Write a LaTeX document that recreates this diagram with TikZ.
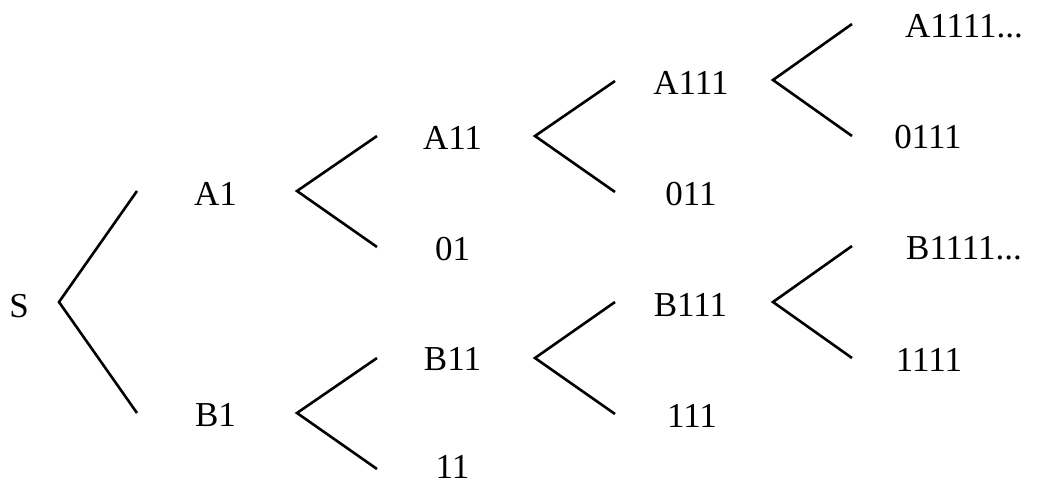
\documentclass[tikz,border=0pt]{standalone}
\usepackage{fontspec}
\setmainfont{Liberation Serif}
\begin{document}
\begin{tikzpicture}[x=1pt,y=-1pt,
  lbl/.style={anchor=base,inner sep=0pt,font=\fontsize{35}{41}\selectfont},
  branch/.style={line width=2.6pt,line join=miter}]
\useasboundingbox (0,0) rectangle (1037,483);
% labels
\node[lbl] (S) at (19,317) {S};
\node[lbl] (A1) at (215.5,205) {A1};
\node[lbl] (B1) at (215.5,426) {B1};
\node[lbl] (A11) at (452.5,149) {A11};
\node[lbl] (n01) at (452.5,260) {01};
\node[lbl] (B11) at (452.5,370) {B11};
\node[lbl] (n11) at (452.5,478) {11};
\node[lbl] (A111) at (691,94) {A111};
\node[lbl] (n011) at (691,205) {011};
\node[lbl] (B111) at (690.5,316) {B111};
\node[lbl] (n111) at (692,427) {111};
\node[lbl] (A1111) at (964,37) {A1111...};
\node[lbl] (n0111) at (928,148) {0111};
\node[lbl] (B1111) at (964,259) {B1111...};
\node[lbl] (n1111) at (929,371) {1111};
% branch points
\coordinate (vS) at (59,302);   \coordinate (eA1) at (137,191); \coordinate (eB1) at (137,413);
\coordinate (vA1) at (297,191); \coordinate (eA11) at (377,136); \coordinate (e01) at (377,247);
\coordinate (vB1) at (297,413); \coordinate (eB11) at (377,358); \coordinate (e11) at (377,469);
\coordinate (vA11) at (535,136); \coordinate (eA111) at (615,81); \coordinate (e011) at (615,192);
\coordinate (vB11) at (535,358); \coordinate (eB111) at (615,302); \coordinate (e111) at (615,414);
\coordinate (vA111) at (773,80); \coordinate (eA1111) at (852,24); \coordinate (e0111) at (852,136);
\coordinate (vB111) at (773,302); \coordinate (eB1111) at (852,246); \coordinate (e1111) at (852,358);
% branches
\draw[branch] (eA1) -- (vS) -- (eB1);
\draw[branch] (eA11) -- (vA1) -- (e01);
\draw[branch] (eB11) -- (vB1) -- (e11);
\draw[branch] (eA111) -- (vA11) -- (e011);
\draw[branch] (eB111) -- (vB11) -- (e111);
\draw[branch] (eA1111) -- (vA111) -- (e0111);
\draw[branch] (eB1111) -- (vB111) -- (e1111);
\end{tikzpicture}
\end{document}
